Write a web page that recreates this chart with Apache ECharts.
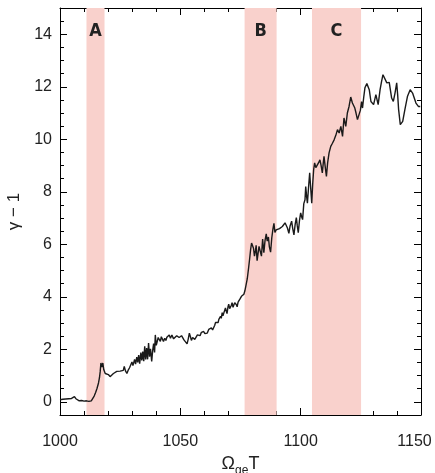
<!DOCTYPE html>
<html>
<head>
<meta charset="utf-8">
<script src="https://cdn.jsdelivr.net/npm/echarts@6/dist/echarts.min.js"></script>
<style>
html,body{margin:0;padding:0;background:#fff;}
#chart{width:435px;height:473px;}
</style>
</head>
<body>
<div id="chart"></div>
<script>
var timeValues = [
1000.0,1000.6,1001.2,1001.8,1002.4,1003.0,1003.6,1004.2,1004.8,1005.4,1006.0,1006.6,1007.2,1008.0,1009.0,1010.0,1011.0,1012.0,1013.0,1013.6,
1014.2,1014.8,1015.4,1016.0,1016.4,1016.7,1017.0,1017.4,1017.8,1018.2,1018.8,1019.5,1020.1,1020.8,1021.5,1022.2,1022.9,1023.6,1024.3,1025.0,
1025.7,1026.3,1026.7,1027.2,1027.8,1028.4,1028.9,1029.4,1029.9,1030.3,1030.6,1031.0,1031.4,1031.9,1032.3,1032.7,1033.1,1033.6,1034.0,1034.4,
1034.8,1035.2,1035.6,1036.0,1036.4,1036.8,1037.2,1037.6,1038.1,1038.5,1038.9,1039.3,1039.6,1040.0,1040.4,1040.8,1041.2,1041.7,1042.1,1042.5,
1043.0,1043.5,1044.0,1044.4,1044.9,1045.4,1045.9,1046.5,1047.2,1047.9,1048.5,1049.0,1049.5,1050.0,1050.5,1051.0,1051.5,1052.0,1052.8,1053.3,
1053.75,1054.2,1054.6,1055.1,1055.5,1056.0,1056.5,1057.1,1057.6,1058.2,1058.75,1059.2,1059.7,1060.2,1060.7,1061.2,1061.8,1062.3,1062.9,1063.4,
1063.9,1064.3,1064.6,1065.0,1065.3,1065.7,1066.0,1066.4,1066.7,1067.0,1067.4,1067.7,1068.0,1068.4,1068.75,1069.1,1069.4,1069.8,1070.1,1070.5,
1070.8,1071.2,1071.5,1071.9,1072.2,1072.6,1072.9,1073.3,1073.6,1074.0,1074.3,1074.8,1075.4,1075.9,1076.4,1076.8,1077.2,1077.8,1078.3,1078.8,
1079.2,1079.6,1080.0,1080.4,1080.8,1081.2,1081.5,1081.9,1082.3,1082.7,1083.3,1083.7,1084.2,1084.7,1085.2,1085.7,1086.1,1086.6,1087.0,1087.5,
1088.0,1088.5,1088.9,1089.3,1089.8,1090.5,1091.2,1091.9,1092.4,1093.0,1093.5,1094.0,1094.5,1095.1,1095.6,1096.25,1096.7,1097.2,1097.7,1098.2,
1098.6,1099.0,1099.5,1100.0,1100.4,1100.8,1101.3,1101.8,1102.1,1102.5,1102.8,1103.3,1103.75,1104.2,1104.6,1105.0,1105.4,1105.8,1106.3,1106.9,
1107.4,1108.0,1108.5,1109.0,1109.4,1109.7,1110.2,1110.7,1111.2,1111.8,1112.5,1113.2,1113.9,1114.6,1115.3,1116.0,1116.7,1117.4,1118.0,1118.75,
1119.4,1120.1,1120.8,1121.5,1122.5,1123.0,1123.6,1124.3,1124.8,1125.3,1125.7,1126.2,1126.7,1127.5,1128.0,1128.5,1129.2,1130.3,1131.25,1132.2,
1133.0,1133.6,1134.2,1135.0,1135.8,1136.8,1137.8,1138.5,1139.2,1139.9,1140.3,1140.7,1141.4,1142.4,1143.3,1144.4,1145.5,1146.5,1147.2,1147.9,
1148.9,1149.7
];
var gammaValues = [
0.08,0.04,0.10,0.07,0.11,0.08,0.12,0.09,0.13,0.16,0.20,0.12,0.06,0.04,0.05,0.03,0.04,0.02,0.04,0.10,
0.22,0.36,0.52,0.72,0.92,1.15,1.48,1.32,1.48,1.22,1.08,1.02,1.04,0.96,0.94,1.08,1.10,1.16,1.19,1.17,
1.24,1.20,1.35,1.18,1.08,1.22,1.30,1.25,1.52,1.38,1.45,1.62,1.44,1.70,1.50,1.78,1.45,1.88,1.58,1.92,
1.55,2.12,1.62,2.05,1.62,2.24,1.72,2.02,1.54,1.95,2.22,1.88,2.55,2.15,2.08,2.45,2.38,2.30,2.48,2.40,
2.30,2.42,2.34,2.46,2.40,2.55,2.42,2.55,2.40,2.43,2.52,2.59,2.45,2.42,2.52,2.48,2.36,2.30,2.21,2.40,
2.62,2.48,2.34,2.45,2.50,2.38,2.42,2.55,2.60,2.52,2.65,2.58,2.68,2.60,2.66,2.62,2.76,2.70,2.82,2.74,
2.80,2.92,3.02,2.96,3.08,3.02,3.14,3.08,3.26,3.18,3.40,3.28,3.34,3.22,3.58,3.45,3.36,3.62,3.72,3.55,
3.50,3.68,3.78,3.60,3.56,3.78,3.84,3.70,3.62,3.80,3.84,3.92,4.02,3.98,4.10,4.22,4.40,4.68,5.05,5.45,
5.80,6.05,6.12,5.85,5.55,5.75,5.96,5.38,5.65,5.92,5.88,5.55,6.20,5.68,6.15,6.40,6.12,6.28,5.90,5.70,
6.25,6.60,6.80,6.45,6.55,6.52,6.60,6.55,6.68,6.74,6.82,6.88,6.62,6.42,6.70,6.88,6.60,6.36,6.75,7.02,
6.70,6.44,6.90,7.20,7.05,6.94,7.55,7.70,8.20,7.80,7.57,8.20,8.72,8.10,7.57,8.30,8.85,9.10,8.92,8.97,
9.10,9.22,9.00,8.72,9.10,9.35,8.95,8.59,9.10,9.48,9.73,9.85,9.98,10.15,10.37,10.24,10.49,10.11,10.81,10.49,
11.00,11.25,11.61,11.38,11.19,11.00,10.75,10.68,11.10,11.44,11.19,11.60,11.96,12.12,12.10,11.89,11.44,11.32,11.70,11.32,
11.89,12.20,12.46,12.40,12.15,12.17,11.57,11.44,11.76,12.15,11.70,11.13,10.56,10.68,11.13,11.64,11.89,11.76,11.70,11.38,
11.25,11.25
];
var bandNames = ['A', 'B', 'C'];
var bandStarts = [1011, 1076.7, 1104.7];
var bandEnds = [1018.5, 1090, 1125.1];
var xTicks = [1000, 1050, 1100, 1150];
var yTicks = [0, 2, 4, 6, 8, 10, 12, 14];
var yMinorTicks = [-0.5,0,0.5,1,1.5,2,2.5,3,3.5,4,4.5,5,5.5,6,6.5,7,7.5,8,8.5,9,9.5,10,10.5,11,11.5,12,12.5,13,13.5,14,14.5];

var lineData = timeValues.map(function (t, i) { return [t, gammaValues[i]]; });
var areas = bandNames.map(function (n, i) {
  return [{ name: n, xAxis: bandStarts[i] }, { xAxis: bandEnds[i] }];
});

var axisFont = { fontFamily: 'Liberation Sans', fontSize: 16, color: '#222' };
function yAx(pos, withLabels) {
  return {
    type: 'value', min: -0.5, max: 15, position: pos,
    axisLine: { show: true, onZero: false, lineStyle: { color: '#000', width: 1 } },
    axisTick: { inside: true, length: 7, customValues: yTicks, lineStyle: { color: '#000' } },
    splitLine: { show: false },
    axisLabel: withLabels ? Object.assign({ margin: 8, customValues: yTicks }, axisFont) : { show: false }
  };
}
function yMinor(pos) {
  return {
    type: 'value', min: -0.5, max: 15, position: pos,
    axisLine: { show: false, onZero: false },
    axisTick: { inside: true, length: 4, customValues: yMinorTicks, lineStyle: { color: '#000' } },
    splitLine: { show: false }, axisLabel: { show: false }
  };
}
function xAx(pos, withLabels) {
  var last = xTicks[xTicks.length - 1];
  return {
    type: 'value', min: 1000, max: 1150, interval: 50, position: pos,
    axisLine: { show: true, onZero: false, lineStyle: { color: '#000', width: 1 } },
    axisTick: { inside: true, length: 7, lineStyle: { color: '#000' } },
    minorTick: { show: true, splitNumber: 5, length: 4, lineStyle: { color: '#000' } },
    splitLine: { show: false },
    axisLabel: withLabels ? Object.assign({
      margin: 19,
      formatter: function (v) { return v === last ? '{r|' + v + '}' : String(v); },
      rich: { r: { fontFamily: 'Liberation Sans', fontSize: 16, color: '#222', padding: [0, 13, 0, 0] } }
    }, axisFont) : { show: false }
  };
}
var yLeft = yAx('left', true);
yLeft.name = 'γ − 1';
yLeft.nameLocation = 'middle';
yLeft.nameGap = 34;
yLeft.nameRotate = 90;
yLeft.nameTextStyle = { fontFamily: 'Liberation Sans', fontSize: 17, color: '#222' };

var xBottom = xAx('bottom', true);
xBottom.name = '{a|Ω}{s|ge}{a|T}';
xBottom.nameLocation = 'middle';
xBottom.nameGap = 28;
xBottom.nameTextStyle = {
  rich: {
    a: { fontFamily: 'Liberation Sans', fontSize: 18, color: '#222', lineHeight: 22, verticalAlign: 'bottom' },
    s: { fontFamily: 'Liberation Sans', fontSize: 12, color: '#222', lineHeight: 22, verticalAlign: 'bottom', padding: [0, 0, -4, 0] }
  }
};

var chart = echarts.init(document.getElementById('chart'), null, { renderer: 'canvas' });
chart.setOption({
  animation: false,
  backgroundColor: '#fff',
  grid: { left: 60, right: 14, top: 8, bottom: 58, containLabel: false, outerBoundsMode: 'none' },
  xAxis: [xBottom, xAx('top', false)],
  yAxis: [yLeft, yAx('right', false), yMinor('left'), yMinor('right')],
  series: [{
    type: 'line',
    data: lineData,
    showSymbol: false,
    symbol: 'none',
    lineStyle: { color: '#1a1a1a', width: 1.4 },
    z: 5,
    markArea: {
      silent: true,
      itemStyle: { color: '#f9d1cc' },
      label: {
        show: true, position: 'insideTop', distance: 14,
        fontFamily: '"Liberation Sans Narrow", "DejaVu Sans Condensed", "Liberation Sans", sans-serif',
        fontWeight: 'bold', fontSize: 18, color: '#222'
      },
      data: areas
    }
  }]
});
</script>
</body>
</html>
